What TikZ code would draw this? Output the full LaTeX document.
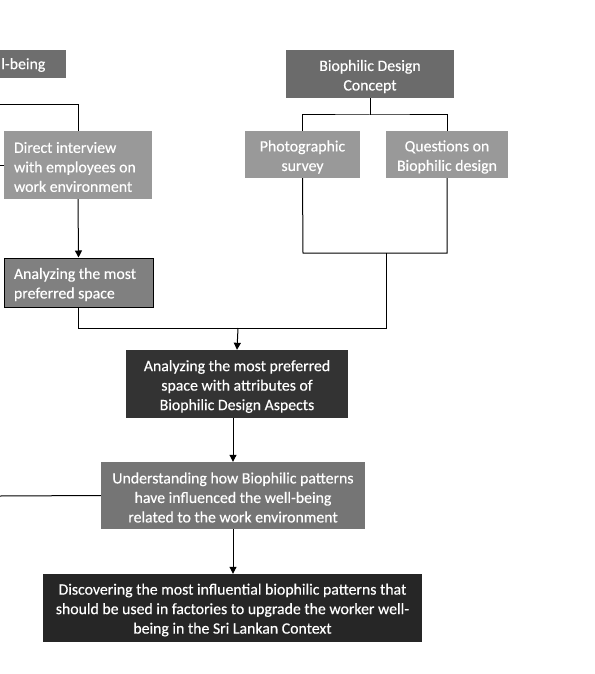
\documentclass[tikz,border=0pt]{standalone}
\usepackage{fontspec}
\setmainfont{Carlito}[FakeBold=0.35]
\usetikzlibrary{arrows.meta}
\begin{document}
\begin{tikzpicture}[x=1pt,y=-1pt,
  box/.style={inner sep=0pt},
  txt/.style={inner sep=0pt, text=white, font=\fontsize{15.8}{19.5}\selectfont},
  conn/.style={line width=1pt, draw=black},
  arr/.style={conn, -{Triangle[length=7pt,width=7pt]}}]
\useasboundingbox (0,0) rectangle (594,674);
\fill[white] (0,0) rectangle (594,674);
% boxes
\node[box, fill=black!57, minimum width=66pt, minimum height=28pt] (wb) at (33,64) {};
\node[box, fill=black!40, minimum width=148pt, minimum height=68pt] (di) at (78,165) {};
\node[box, fill=black!50, draw=black, line width=1pt, minimum width=149pt, minimum height=49pt] (ap) at (78.5,282.5) {};
\node[box, fill=black!58, minimum width=168pt, minimum height=48pt] (bdc) at (370,74) {};
\node[box, fill=black!40, minimum width=115pt, minimum height=47pt] (ps) at (302.5,154.5) {};
\node[box, fill=black!40, minimum width=122pt, minimum height=47pt] (qb) at (447,154.5) {};
\node[box, fill=black!80, minimum width=222pt, minimum height=68pt] (aa) at (237,384) {};
\node[box, fill=black!54, minimum width=264pt, minimum height=67pt] (ub) at (233,495.5) {};
\node[box, fill=black!85, minimum width=379pt, minimum height=68pt] (db) at (232.5,608) {};
% texts
\node[txt, anchor=east] (wbt) at ([xshift=12.5pt,yshift=-1pt]wb.center) {l-being};
\node[txt, align=flush left, text width=128pt] (dit) at ([yshift=-2pt]di.center) {Direct interview\\with employees on\\work environment};
\node[txt, align=flush left, text width=129pt] (apt) at ([yshift=-2pt]ap.center) {Analyzing the most\\preferred space};
\node[txt, align=center] (bdct) at ([yshift=-2.5pt]bdc.center) {Biophilic Design\\Concept};
\node[txt, align=center] (pst) at ([yshift=-2.5pt]ps.center) {Photographic\\survey};
\node[txt, align=center] (qbt) at ([yshift=-2.5pt]qb.center) {Questions on\\Biophilic design};
\node[txt, align=center] (aat) at ([yshift=-2.5pt]aa.center) {Analyzing the most preferred\\space with attributes of\\Biophilic Design Aspects};
\node[txt, align=center] (ubt) at ([yshift=-2pt]ub.center) {Understanding how Biophilic patterns\\have influenced the well-being\\related to the work environment};
\node[txt, align=center] (dbt) at ([yshift=-2pt]db.center) {Discovering the most influential biophilic patterns that\\should be used in factories to upgrade the worker well-\\being in the Sri Lankan Context};
% coordinates
\coordinate (l1) at (0,105);
\coordinate (l2) at (0,165);
\coordinate (l3) at (0,496);
\coordinate (j1) at (370,115);
\coordinate (j2) at (303,253);
\coordinate (j3) at (447,253);
\coordinate (j4) at (386,253);
\coordinate (j5) at (386,328);
\coordinate (j6) at (238,328);
% connectors
\draw[conn] (l1) -| (di.north);
\draw[conn] (l2) -- (di.west);
\draw[arr] (di.south) -- (ap.north);
\draw[conn] (bdc.south) -- (j1);
\draw[conn] (ps.north) |- (j1) -| (qb.north);
\draw[conn] (ps.south) -- (j2) -- (j3) -- (qb.south);
\draw[conn] (j4) -- (j5) -- (ap.south |- j5) -- (ap.south);
\draw[arr] (j6) -- (aa.north);
\draw[arr] (aa.south -| ub.north) -- (ub.north);
\draw[conn] (l3) -- (ub.west);
\draw[arr] (ub.south) -- (ub.south |- db.north);
\end{tikzpicture}
\end{document}
